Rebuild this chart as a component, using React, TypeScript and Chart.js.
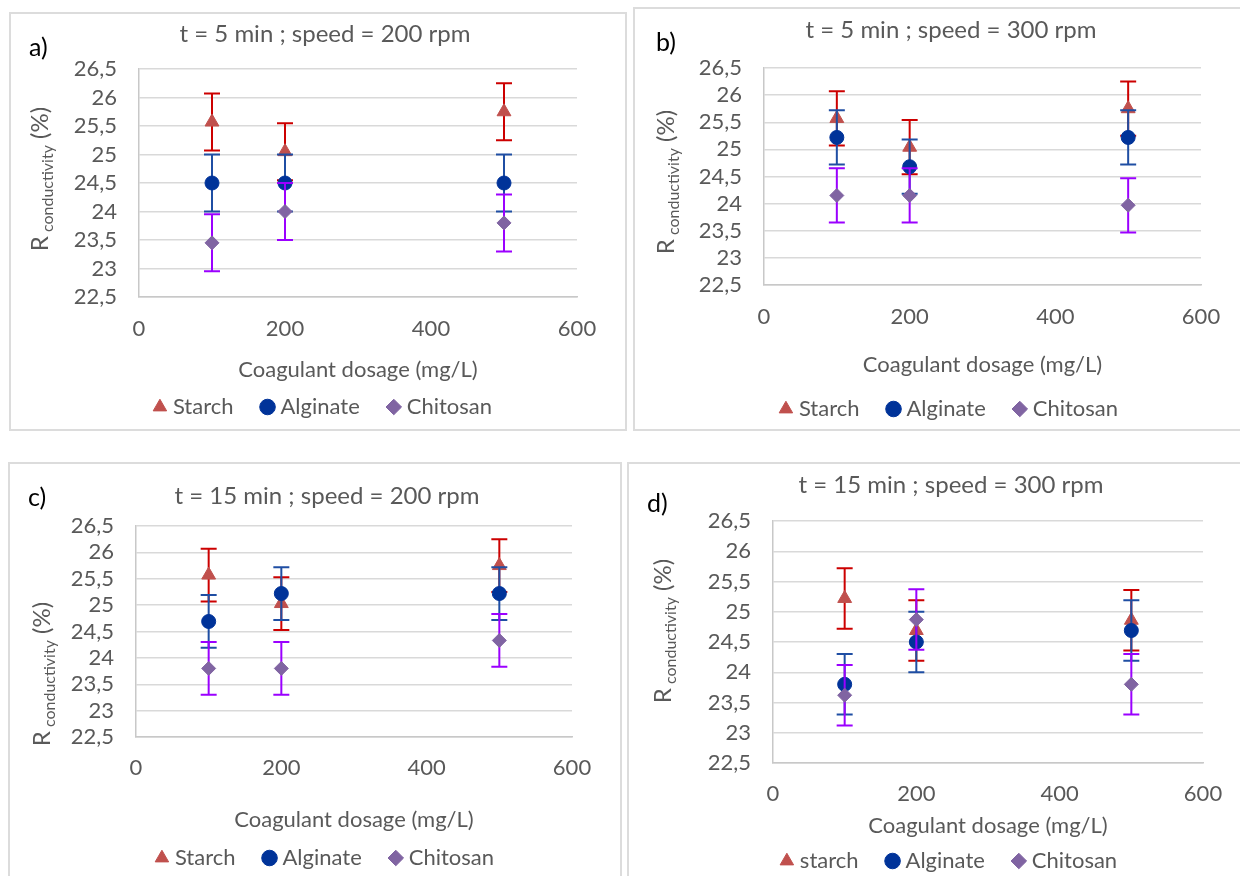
import React, { useEffect, useRef } from "react";
import { Chart, registerables } from "chart.js";

Chart.register(...registerables);

// ---------- DATA ----------
const dosages = [100, 200, 500];
const xTickValues = [0, 200, 400, 600];
const yTickValues = [22.5, 23, 23.5, 24, 24.5, 25, 25.5, 26, 26.5];
const seriesNames = ["Starch", "Alginate", "Chitosan"];
const seriesNamesD = ["starch", "Alginate", "Chitosan"];
const panelTitles = [
  "t = 5 min ; speed = 200 rpm",
  "t = 5 min ; speed = 300 rpm",
  "t = 15 min ; speed = 200 rpm",
  "t = 15 min ; speed = 300 rpm",
];
const panelLetters = ["a)", "b)", "c)", "d)"];
const xAxisTitle = "Coagulant dosage (mg/L)";

// a) t = 5 min, 200 rpm
const starchA = [25.57, 25.05, 25.75];
const alginateA = [24.5, 24.5, 24.5];
const chitosanA = [23.45, 24.0, 23.8];
const starchErrA = [0.5, 0.5, 0.5];
const alginateErrA = [0.5, 0.5, 0.5];
const chitosanErrA = [0.5, 0.5, 0.5];

// b) t = 5 min, 300 rpm
const starchB = [25.57, 25.04, 25.75];
const alginateB = [25.22, 24.68, 25.22];
const chitosanB = [24.15, 24.15, 23.97];
const starchErrB = [0.5, 0.5, 0.5];
const alginateErrB = [0.5, 0.5, 0.5];
const chitosanErrB = [0.5, 0.5, 0.5];

// c) t = 15 min, 200 rpm
const starchC = [25.57, 25.03, 25.75];
const alginateC = [24.69, 25.22, 25.22];
const chitosanC = [23.8, 23.8, 24.33];
const starchErrC = [0.5, 0.5, 0.5];
const alginateErrC = [0.5, 0.5, 0.5];
const chitosanErrC = [0.5, 0.5, 0.5];

// d) t = 15 min, 300 rpm
const starchD = [25.22, 24.69, 24.86];
const alginateD = [23.8, 24.5, 24.69];
const chitosanD = [23.62, 24.87, 23.8];
const starchErrD = [0.5, 0.5, 0.5];
const alginateErrD = [0.5, 0.5, 0.5];
const chitosanErrD = [0.5, 0.5, 0.5];

// ---------- STYLE ----------
const FONT = "Lato, 'Open Sans', sans-serif";
const GREY = "#595959";
const TITLE_SIZE = 24;
const TICK_SIZE = 22;
const AXIS_TITLE_SIZE = 22;
const LEGEND_SIZE = 22;
const LEGEND_PAD = 32;

const seriesStyles = [
  { pointStyle: "triangle", radius: 8, color: "#C0504D", err: "#CC0000" },
  { pointStyle: "circle", radius: 7, color: "#003399", err: "#1F4EA3" },
  { pointStyle: "rectRot", radius: 7, color: "#8064A2", err: "#9B00FF" },
];

// page-coordinate layout targets for each panel
const panelLayouts = [
  { box: { l: 9, t: 12, w: 618, h: 419 }, cl: 10, ct: 12, cw: 630, ch: 418, plot: { l: 139, r: 577, t: 69, b: 297 }, titleY: 34, xTickY: 329, xTitleY: 370, legendY: 407, yTitle: { x: 40, y: 179 }, letter: { x: 29, y: 46 } },
  { box: { l: 633, t: 7, w: 612, h: 424 }, cl: 640, ct: 8, cw: 622, ch: 423, plot: { l: 764, r: 1201, t: 68, b: 285 }, titleY: 30, xTickY: 317, xTitleY: 365, legendY: 409, yTitle: { x: 666, y: 182 }, letter: { x: 656, y: 41 } },
  { box: { l: 8, t: 462, w: 614, h: 420 }, cl: 20, ct: 463, cw: 614, ch: 420, plot: { l: 136, r: 572, t: 526, b: 737 }, titleY: 496, xTickY: 768, xTitleY: 820, legendY: 858, yTitle: { x: 42, y: 674 }, letter: { x: 28, y: 496 } },
  { box: { l: 627, t: 462, w: 620, h: 420 }, cl: 640, ct: 463, cw: 622, ch: 420, plot: { l: 773, r: 1203, t: 521, b: 763 }, titleY: 485, xTickY: 794, xTitleY: 826, legendY: 861, yTitle: { x: 663, y: 631 }, letter: { x: 647, y: 502 } },
];

const panelSeries = [
  { names: seriesNames, values: [starchA, alginateA, chitosanA], errors: [starchErrA, alginateErrA, chitosanErrA] },
  { names: seriesNames, values: [starchB, alginateB, chitosanB], errors: [starchErrB, alginateErrB, chitosanErrB] },
  { names: seriesNames, values: [starchC, alginateC, chitosanC], errors: [starchErrC, alginateErrC, chitosanErrC] },
  { names: seriesNamesD, values: [starchD, alginateD, chitosanD], errors: [starchErrD, alginateErrD, chitosanErrD] },
];

// ---------- PLUGINS ----------
const errorBarPlugin: any = {
  id: "errorBars",
  beforeDatasetDraw(chart: any, args: any) {
    const ds = chart.data.datasets[args.index];
    if (!ds.errors) return;
    const yScale = chart.scales.y;
    const ctx = chart.ctx;
    ctx.save();
    ctx.strokeStyle = ds.errorColor;
    ctx.lineWidth = 2;
    args.meta.data.forEach((pt: any, i: number) => {
      const v = ds.data[i].y;
      const e = ds.errors[i];
      const x = pt.x;
      const yLo = yScale.getPixelForValue(v - e);
      const yHi = yScale.getPixelForValue(v + e);
      ctx.beginPath();
      ctx.moveTo(x, yLo);
      ctx.lineTo(x, yHi);
      ctx.moveTo(x - 8, yLo);
      ctx.lineTo(x + 8, yLo);
      ctx.moveTo(x - 8, yHi);
      ctx.lineTo(x + 8, yHi);
      ctx.stroke();
    });
    ctx.restore();
  },
};

const yTitlePlugin: any = {
  id: "yTitle",
  afterDraw(chart: any, _args: any, opts: any) {
    const ctx = chart.ctx;
    ctx.save();
    ctx.translate(opts.x, opts.y);
    ctx.rotate(-Math.PI / 2);
    ctx.fillStyle = GREY;
    ctx.textBaseline = "alphabetic";
    ctx.textAlign = "left";
    const big = `24px ${FONT}`;
    const small = `16px ${FONT}`;
    const parts: [string, string, number][] = [
      ["R", big, 0],
      [" conductivity", small, 5],
      [" (%)", big, 0],
    ];
    let total = 0;
    const widths = parts.map(([t, f]) => {
      ctx.font = f;
      const w = ctx.measureText(t).width;
      total += w;
      return w;
    });
    let cx = -total / 2;
    parts.forEach(([t, f, dy], i) => {
      ctx.font = f;
      ctx.fillText(t, cx, 8 + dy);
      cx += widths[i];
    });
    ctx.restore();
  },
};

function buildConfig(idx: number): any {
  const L = panelLayouts[idx];
  const S = panelSeries[idx];
  const plotL = L.plot.l - L.cl;
  const plotR = L.plot.r - L.cl;
  const plotT = L.plot.t - L.ct;
  const plotB = L.plot.b - L.ct;
  const rightGap = L.cw - plotR;
  const titlePadTop = L.titleY - L.ct - TITLE_SIZE * 0.6;
  const titlePadBottom = plotT - titlePadTop - TITLE_SIZE * 1.2;
  const padBottom = L.ch - (L.legendY - L.ct) - LEGEND_SIZE / 2 - 10;
  const legendTop = L.ch - padBottom - (LEGEND_SIZE + LEGEND_PAD + 10);
  const xHeight = legendTop - plotB;
  const xTickPad = L.xTickY - L.ct - plotB - TICK_SIZE * 0.6;
  const xTitlePad = legendTop - (L.xTitleY - L.ct) - AXIS_TITLE_SIZE * 0.6;

  const datasets = S.values.map((vals, s) => ({
    label: S.names[s],
    data: dosages.map((x, i) => ({ x, y: vals[i] })),
    errors: S.errors[s],
    errorColor: seriesStyles[s].err,
    pointStyle: seriesStyles[s].pointStyle,
    pointRadius: seriesStyles[s].radius,
    pointHoverRadius: seriesStyles[s].radius,
    backgroundColor: seriesStyles[s].color,
    borderColor: seriesStyles[s].color,
    borderWidth: 1,
    showLine: false,
    order: 3 - s,
  }));

  return {
    type: "scatter",
    data: { datasets },
    plugins: [errorBarPlugin, yTitlePlugin],
    options: {
      responsive: false,
      animation: false,
      layout: { padding: { top: 0, left: 0, right: 0, bottom: padBottom } },
      plugins: {
        title: {
          display: true,
          text: panelTitles[idx],
          color: GREY,
          font: { family: FONT, size: TITLE_SIZE, weight: "normal" },
          padding: { top: titlePadTop, bottom: titlePadBottom },
        },
        legend: {
          display: true,
          position: "bottom",
          labels: {
            usePointStyle: true,
            boxWidth: 4,
            boxHeight: 11,
            padding: LEGEND_PAD,
            color: GREY,
            font: { family: FONT, size: LEGEND_SIZE },
            sort: (a: any, b: any) => a.datasetIndex - b.datasetIndex,
          },
        },
        tooltip: { enabled: false },
        yTitle: { x: L.yTitle.x - L.cl, y: L.yTitle.y - L.ct },
      },
      scales: {
        x: {
          type: "linear",
          min: 0,
          max: 600,
          afterBuildTicks: (s: any) => {
            s.ticks = xTickValues.map((v) => ({ value: v }));
          },
          afterFit: (s: any) => {
            s.height = xHeight;
            s.paddingLeft = 0;
            s.paddingRight = 0;
          },
          grid: { display: false, drawTicks: false },
          border: { display: true, color: "#c8c8c8", width: 1.5 },
          ticks: {
            padding: xTickPad,
            color: GREY,
            font: { family: FONT, size: TICK_SIZE },
            maxRotation: 0,
            autoSkip: false,
          },
          title: {
            display: true,
            text: xAxisTitle,
            color: GREY,
            font: { family: FONT, size: AXIS_TITLE_SIZE },
            padding: { top: 0, bottom: xTitlePad },
          },
        },
        y: {
          type: "linear",
          position: "left",
          min: 22.5,
          max: 26.5,
          afterBuildTicks: (s: any) => {
            s.ticks = yTickValues.map((v) => ({ value: v }));
          },
          afterFit: (s: any) => {
            s.width = plotL;
            s.paddingTop = 0;
            s.paddingBottom = 0;
          },
          grid: { color: "#d9d9d9", lineWidth: 1.5, drawTicks: false },
          border: { display: true, color: "#c8c8c8", width: 1.5 },
          ticks: {
            padding: 22,
            autoSkip: false,
            color: GREY,
            font: { family: FONT, size: TICK_SIZE },
            callback: (v: any) => String(v).replace(".", ","),
          },
        },
        spacer: {
          type: "linear",
          position: "right",
          min: 0,
          max: 1,
          grid: { display: false, drawTicks: false },
          border: { display: false },
          ticks: { display: false },
          afterFit: (s: any) => {
            s.width = rightGap;
            s.paddingTop = 0;
            s.paddingBottom = 0;
          },
        },
      },
    },
  };
}

function Panel({ idx }: { idx: number }) {
  const ref = useRef<HTMLCanvasElement>(null);
  const L = panelLayouts[idx];
  useEffect(() => {
    if (!ref.current) return;
    const chart = new Chart(ref.current, buildConfig(idx));
    return () => chart.destroy();
  }, [idx]);
  return (
    <canvas
      ref={ref}
      width={L.cw}
      height={L.ch}
      style={{ position: "absolute", left: L.cl, top: L.ct, width: L.cw, height: L.ch }}
    />
  );
}

export default function App() {
  return (
    <div
      style={{
        position: "absolute",
        left: 0,
        top: 0,
        width: 1240,
        height: 876,
        overflow: "hidden",
        background: "#ffffff",
      }}
    >
      {panelLayouts.map((L, i) => (
        <div
          key={"box" + i}
          style={{
            position: "absolute",
            left: L.box.l,
            top: L.box.t,
            width: L.box.w,
            height: L.box.h,
            border: "2px solid #dcdcdc",
            boxSizing: "border-box",
          }}
        />
      ))}
      {panelLayouts.map((_, i) => (
        <Panel key={"p" + i} idx={i} />
      ))}
      {panelLayouts.map((L, i) => (
        <div
          key={"lt" + i}
          style={{
            position: "absolute",
            left: L.letter.x,
            top: L.letter.y - 14,
            fontFamily: FONT,
            fontSize: 25,
            lineHeight: "28px",
            color: "#000",
          }}
        >
          {panelLetters[i]}
        </div>
      ))}
    </div>
  );
}
